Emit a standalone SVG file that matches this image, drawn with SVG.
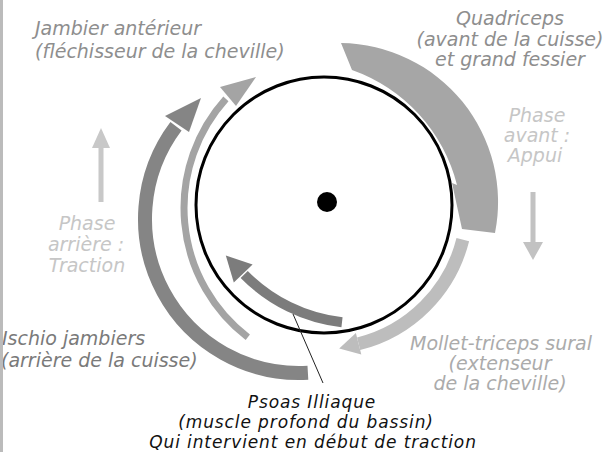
<svg xmlns="http://www.w3.org/2000/svg" width="607" height="452" viewBox="0 0 607 452">
<defs>
<style>
text{font-family:"DejaVu Sans","Liberation Sans",sans-serif;font-style:italic;font-size:19px}
.lbl{fill:#8e8e8e}
.ph{fill:#c6c6c6}
.dark{fill:#7a7a7a}
.blk{fill:#111;font-size:17px;letter-spacing:0.9px}
.mol{fill:#ababab}
.arc{fill:none;stroke-linecap:butt}
</style>
</defs>
<rect width="607" height="452" fill="#fff"/>

<g id="arrows">
  <g id="quadriceps-arrow">
    <path d="M341,43 L352,70 A165,165 0 0 1 457,185 L452,183 L462,229 L495,233 A159,159 0 0 0 341,43 Z" fill="#a6a6a6"/>
  </g>
  <g id="mollet-arrow">
    <path class="arc" d="M462.8,239.6 A143,143 0 0 1 358.6,343.8" stroke="#bdbdbd" stroke-width="13"/>
    <polygon points="361.3,354.5 339.2,348.6 355.9,333.1" fill="#bdbdbd"/>
  </g>
  <g id="jambier-arrow">
    <path class="arc" d="M247.8,337.3 A163,163 0 0 1 225.9,98.9" stroke="#a4a4a4" stroke-width="7"/>
    <polygon points="220,87 256,77 236,106" fill="#a4a4a4"/>
  </g>
  <g id="ischio-arrow">
    <path class="arc" d="M307.9,372.7 A154,154 0 0 1 176,126.3" stroke="#858585" stroke-width="14"/>
    <polygon points="165,116 201,98 189,132" fill="#858585"/>
  </g>
  <g id="psoas-arrow">
    <path class="arc" d="M342,322.3 A163,163 0 0 1 244.2,274.5" stroke="#7c7c7c" stroke-width="10"/>
    <polygon points="233.8,282.5 225.8,255.5 252.6,264.5" fill="#7c7c7c"/>
  </g>
</g>

<g id="wheel">
  <circle cx="324" cy="205" r="128" fill="none" stroke="#000" stroke-width="3"/>
  <circle cx="327" cy="202" r="10" fill="#000"/>
</g>

<g id="connectors">
  <line x1="293" y1="314" x2="323" y2="383" stroke="#222" stroke-width="1"/>
  <g id="phase-up" fill="#c8c8c8">
    <rect x="98.5" y="146" width="5" height="56"/>
    <polygon points="92,148 101,128 110,148"/>
  </g>
  <g id="phase-down" fill="#c2c2c2">
    <rect x="530.5" y="192" width="5" height="52"/>
    <polygon points="523,242 533,260 543,242"/>
  </g>
</g>

<g id="label-jambier">
  <text class="lbl" x="35" y="35">Jambier antérieur</text>
  <text class="lbl" x="35" y="58">(fléchisseur de la cheville)</text>
</g>
<g id="label-quadriceps" text-anchor="middle">
  <text class="lbl" x="510" y="25">Quadriceps</text>
  <text class="lbl" x="510" y="45.5">(avant de la cuisse)</text>
  <text class="lbl" x="510" y="66">et grand fessier</text>
</g>
<g id="label-phase-avant" text-anchor="middle">
  <text class="ph" x="537" y="122">Phase</text>
  <text class="ph" x="537" y="142">avant :</text>
  <text class="ph" x="535" y="162">Appui</text>
</g>
<g id="label-phase-arriere" text-anchor="middle">
  <text class="ph" x="87" y="230">Phase</text>
  <text class="ph" x="86" y="251">arrière :</text>
  <text class="ph" x="87" y="272">Traction</text>
</g>
<g id="label-ischio">
  <text class="dark" x="2" y="345">Ischio jambiers</text>
  <text class="dark" x="1" y="367" font-size="18.6">(arrière de la cuisse)</text>
</g>
<g id="label-mollet" text-anchor="middle">
  <text class="mol" x="501" y="350">Mollet-triceps sural</text>
  <text class="mol" x="500" y="370">(extenseur</text>
  <text class="mol" x="500" y="390">de la cheville)</text>
</g>
<g id="label-psoas" text-anchor="middle">
  <text class="blk" x="312" y="408">Psoas Illiaque</text>
  <text class="blk" x="306" y="428">(muscle profond du bassin)</text>
  <text class="blk" x="313" y="448">Qui intervient en début de traction</text>
</g>

<rect x="0" y="0" width="3" height="452" fill="#bbbbbb"/>
</svg>
